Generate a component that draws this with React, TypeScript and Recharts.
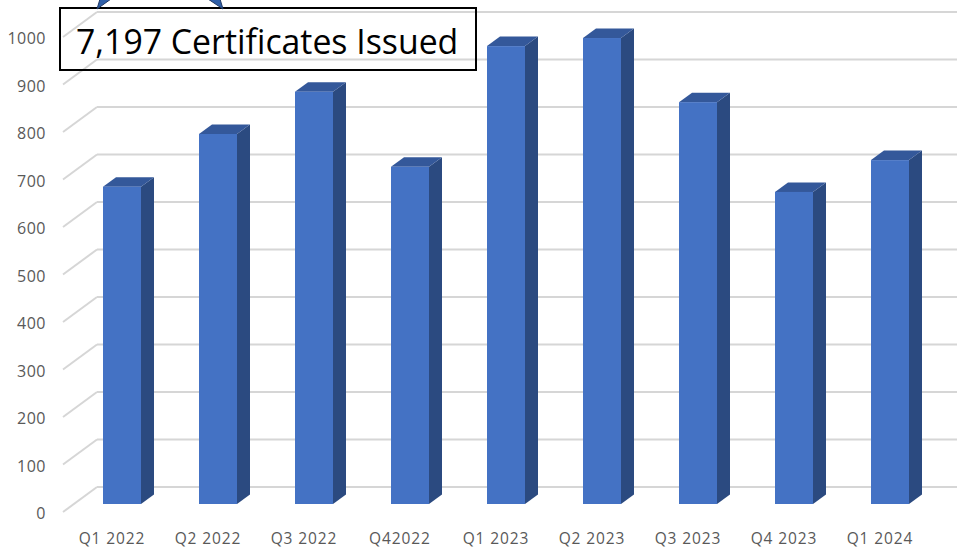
import { BarChart, Bar, XAxis, YAxis, CartesianGrid } from 'recharts'

const quarters = ['Q1 2022', 'Q2 2022', 'Q3 2022', 'Q42022', 'Q1 2023', 'Q2 2023', 'Q3 2023', 'Q4 2023', 'Q1 2024']
const certificates = [668, 779, 868, 710, 964, 981, 846, 657, 724]
const yTicks = [0, 100, 200, 300, 400, 500, 600, 700, 800, 900, 1000]

const chartData = quarters.map((name, i) => ({ name, certificates: certificates[i] }))

const FONT = '"Open Sans", "Noto Sans", sans-serif'
const DEPTH_X = 13
const DEPTH_Y = 9.5

// fake 3D column: front face plus side and top faces
const Bar3D = ({ x, y, width, height }: any) => (
    <g>
        <polygon
            points={`${x + width},${y} ${x + width + DEPTH_X},${y - DEPTH_Y} ${x + width + DEPTH_X},${y + height - DEPTH_Y} ${x + width},${y + height}`}
            fill="#2B4A80"
        />
        <polygon
            points={`${x},${y} ${x + DEPTH_X},${y - DEPTH_Y} ${x + width + DEPTH_X},${y - DEPTH_Y} ${x + width},${y}`}
            fill="#34589A"
        />
        <rect x={x} y={y} width={width} height={height} fill="#4472C4" />
    </g>
)

// back wall line with the diagonal running to the axis
const WallLine = ({ y1 }: any) => (
    <g stroke="#D6D6D6" strokeWidth={2} fill="none">
        <line x1={63} y1={y1 + 8} x2={97} y2={y1 - 17} />
        <line x1={97} y1={y1 - 17} x2={957} y2={y1 - 17} />
    </g>
)

const YTick = ({ y, payload }: any) => (
    <text x={46} y={y + 9} dy={6} textAnchor="end" fontFamily={FONT} fontSize={16} fill="#595959" letterSpacing={0.5}>
        {payload.value}
    </text>
)

const XTick = ({ x, payload }: any) => (
    <text x={x - 10} y={544} textAnchor="middle" fontFamily={FONT} fontSize={15.5} fill="#595959" letterSpacing={0.9}>
        {payload.value}
    </text>
)

export default function App() {
    return (
        <div style={{ position: 'absolute', left: 0, top: 0, width: 957, height: 550, background: '#fff', overflow: 'hidden' }}>
            <BarChart
                width={957}
                height={550}
                data={chartData}
                margin={{ top: 29, right: 19, bottom: 0, left: 0 }}
                barCategoryGap={29}
            >
                <CartesianGrid vertical={false} horizontal={(props: any) => <WallLine key={props.index} {...props} />} />
                <XAxis dataKey="name" axisLine={false} tickLine={false} tick={<XTick />} interval={0} height={46} />
                <YAxis domain={[0, 1000]} ticks={yTicks} axisLine={false} tickLine={false} tick={<YTick />} width={74} />
                <Bar dataKey="certificates" shape={<Bar3D />} isAnimationActive={false} />
            </BarChart>
            <div
                style={{
                    position: 'absolute',
                    left: 59,
                    top: 7,
                    width: 418,
                    height: 64,
                    boxSizing: 'border-box',
                    border: '2px solid #000',
                    fontFamily: FONT,
                    fontSize: 33.8,
                    lineHeight: '64px',
                    paddingLeft: 15,
                    color: '#000',
                    whiteSpace: 'nowrap',
                }}
            >
                7,197 Certificates Issued
            </div>
            {/* tips of the star shape cut off at the top edge */}
            <svg width={957} height={20} style={{ position: 'absolute', left: 0, top: 0 }}>
                <polygon points="97,9 100,-1 111,-1" fill="#2F5FA8" stroke="#1F3864" strokeWidth={1} />
                <polygon points="223,9 208,-1 220,-1" fill="#2F5FA8" stroke="#1F3864" strokeWidth={1} />
            </svg>
        </div>
    )
}
